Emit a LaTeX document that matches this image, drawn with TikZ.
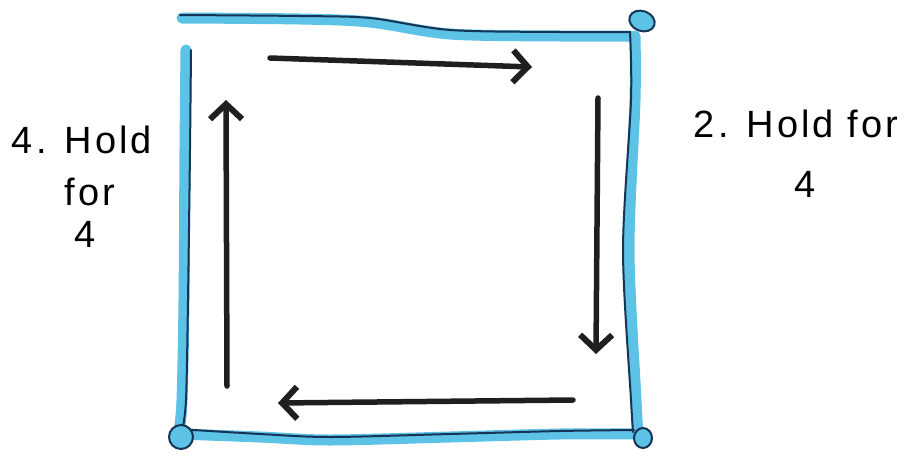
\documentclass[tikz,border=0pt]{standalone}
\usepackage{fontspec}
\setmainfont{Liberation Sans}[LetterSpace=8]
\usetikzlibrary{arrows.meta}

\definecolor{marker}{RGB}{92,194,230}
\definecolor{ink}{RGB}{22,52,86}

\begin{document}
\begin{tikzpicture}[
    x=1pt, y=-1pt,
    blueedge/.style={draw=marker, line width=11pt, line cap=round, line join=round},
    inkedge/.style={draw=ink, line width=2pt, line cap=round, line join=round},
    cornerloop/.style={draw=ink, fill=marker, line width=2pt},
    breath/.style={draw=black!88, line width=5.5pt, line cap=round,
        -{Straight Barb[length=15pt, width=32pt, line width=6pt]}},
    holdtext/.style={anchor=base, inner sep=0pt, font=\fontsize{38}{46}\selectfont}
]
\useasboundingbox (0,0) rectangle (922,456);

% corner loops
\coordinate (looptr) at (642,21);
\coordinate (loopbl) at (181,437);
\coordinate (loopbr) at (643,438);

% blue marker sides
\draw[blueedge] plot[smooth] coordinates {(182,18) (300,19) (370,22) (450,34) (560,36) (630,36)};
\draw[blueedge] plot[smooth] coordinates {(635,36) (635,100) (629,250) (636,400) (638,436)};
\draw[blueedge] plot[smooth] coordinates {(180,434) (260,437) (330,440) (450,437) (560,434) (640,434)};
\draw[blueedge] plot[smooth] coordinates {(186,50) (185,150) (184,300) (182,400) (179,432)};

% ink outline
\draw[inkedge] plot[smooth] coordinates {(180,15) (300,16) (370,18) (450,30) (560,32) (630,32)};
\draw[inkedge] plot[smooth] coordinates {(630,32) (631,100) (623,250) (631,400) (633,432)};
\draw[inkedge] plot[smooth] coordinates {(178,429) (260,434) (330,437) (450,434) (560,431) (634,430)};
\draw[inkedge] plot[smooth] coordinates {(191,50) (190,150) (188,300) (186,400) (182,432)};

\draw[cornerloop, rotate around={-20:(looptr)}] (looptr) ellipse (13 and 10);
\draw[cornerloop] (loopbl) ellipse (12 and 12);
\draw[cornerloop] (loopbr) ellipse (9 and 10);

% breathing arrows
\coordinate (inhalestart) at (270,58);
\coordinate (inhaleend) at (532,67);
\coordinate (holdastart) at (598,98);
\coordinate (holdaend) at (596,354);
\coordinate (exhalestart) at (573,400);
\coordinate (exhaleend) at (278,403);
\coordinate (holdbstart) at (227,386);
\coordinate (holdbend) at (226,100);

\draw[breath] (inhalestart) -- (inhaleend);
\draw[breath] (holdastart) -- (holdaend);
\draw[breath] (exhalestart) -- (exhaleend);
\draw[breath] (holdbstart) -- (holdbend);

% labels
\node[holdtext] (holdleft) at (82,153) {4. Hold};
\node[holdtext] (forleft) at (90,205) {for};
\node[holdtext] (fourleft) at (85,247) {4};
\node[holdtext] (holdright) at (796,137) {2. Hold for};
\node[holdtext] (fourright) at (805,197) {4};
\end{tikzpicture}
\end{document}
